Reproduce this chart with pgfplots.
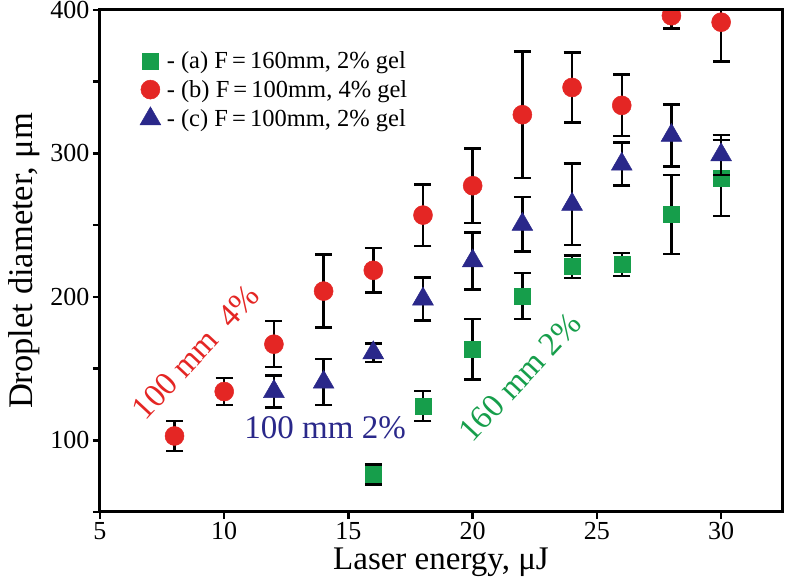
\documentclass[border=0pt]{standalone}
\usepackage{fontspec}
\setmainfont{Liberation Serif}
\usepackage{pgfplots}
\pgfplotsset{compat=1.18}

\definecolor{cg}{RGB}{22,158,75}
\definecolor{cr}{RGB}{228,38,36}
\definecolor{cb}{RGB}{42,40,138}

\pgfplotsset{
  ebar/.style={error bars/.cd, y dir=both, y explicit,
    error bar style={line width=2.5pt, black},
    error mark options={rotate=90, mark size=8.5pt, line width=2.5pt, black}}
}

\begin{document}
\begin{tikzpicture}
\begin{axis}[
  name=ax,
  scale only axis, width=682pt, height=502pt,
  xmin=5, xmax=32.45, ymin=50, ymax=400,
  xtick={5,10,...,30}, ytick={100,200,300,400}, minor ytick={50,150,250,350},
  tick pos=left, tick align=outside,
  major tick length=7pt, minor tick length=7pt,
  every tick/.style={black, line width=2.5pt},
  axis on top,
  clip marker paths=true,
  /pgf/number format/assume math mode=true,
  tick label style={font=\fontsize{26}{30}\selectfont},
  xlabel={Laser energy, μJ},
  ylabel={Droplet diameter, μm},
  every axis x label/.style={at={(axis description cs:0.5,-0.1155)}, anchor=base, font=\fontsize{33}{38}\selectfont},
  every axis y label/.style={at={(axis description cs:-0.0997,0.5)}, rotate=90, anchor=base, font=\fontsize{34.5}{40}\selectfont},
  legend style={draw=none, fill=none, at={(axis description cs:0.054,0.925)}, anchor=north west,
    font=\fontsize{24.5}{28}\selectfont, row sep=6pt,
    nodes={inner xsep=6pt}},
  legend cell align=left,
]
\addplot[only marks, line width=0.5pt, mark=square*, mark size=8pt, mark options={draw=cg, fill=cg, line width=0.5pt}, ebar] coordinates {
 (16,76) +- (0,7)
 (18,124) +- (0,10.5)
 (20,163.5) +- (0,21)
 (22,200.5) +- (0,16)
 (24,221) +- (0,8)
 (26,222.5) +- (0,8)
 (28,257.5) +- (0,27.5)
 (30,283) +- (0,26.5)
};
\addlegendentry{- (a) F\,=\,160mm, 2\% gel}
\addplot[only marks, line width=0.5pt, mark=*, mark size=9.5pt, mark options={draw=cr, fill=cr, line width=0.5pt}, ebar] coordinates {
 (8,103) +- (0,10.5)
 (10,134) +- (0,9.5)
 (12,167) +- (0,16)
 (14,204) +- (0,25.5)
 (16,218.5) +- (0,15.5)
 (18,257) +- (0,21.5)
 (20,277.5) +- (0,26)
 (22,327) +- (0,44)
 (24,346) +- (0,24.5)
 (26,333.5) +- (0,21.5)
 (28,396) +- (0,9)
 (30,391.5) +- (0,27.5)
};
\addlegendentry{- (b) F\,=\,100mm, 4\% gel}
\addplot[only marks, line width=0.5pt, mark=triangle*, mark size=12pt, mark options={draw=cb, fill=cb, line width=0.5pt}, ebar] coordinates {
 (12,134) +- (0,11)
 (14,140.5) +- (0,16)
 (16,161) +- (0,6.5)
 (18,198.5) +- (0,15)
 (20,225) +- (0,20)
 (22,250.5) +- (0,19)
 (24,264.5) +- (0,28.5)
 (26,292.5) +- (0,15)
 (28,312.5) +- (0,21.5)
 (30,299) +- (0,14)
};
\addlegendentry{- (c) F\,=\,100mm, 2\% gel}
\node[rotate=47, text=cr, font=\fontsize{33}{38}\selectfont] at (axis cs:8.86,161.5) {100 mm\ \ 4\%};
\node[text=cb, font=\fontsize{33}{38}\selectfont] at (axis cs:14.06,108.5) {100 mm 2\%};
\node[rotate=47, text=cg, font=\fontsize{33}{38}\selectfont] at (axis cs:21.9,144) {160 mm 2\%};
\end{axis}
\draw[line width=3pt, black] (ax.south west) rectangle (ax.north east);
\pgfresetboundingbox
\path ([shift={(-100pt,-68pt)}]ax.south west) rectangle ([shift={(5pt,10pt)}]ax.north east);
\end{tikzpicture}
\end{document}
